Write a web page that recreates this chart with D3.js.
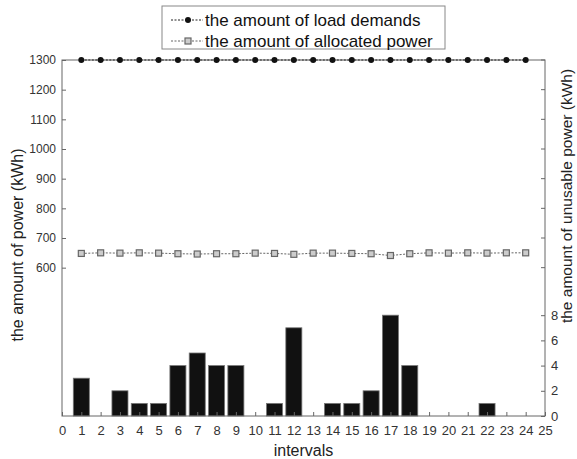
<!DOCTYPE html>
<html>
<head>
<meta charset="utf-8">
<script src="https://cdn.jsdelivr.net/npm/d3@7"></script>
<style>
  body { margin: 0; background: #fff; }
  svg { font-family: "Liberation Sans", Arial, sans-serif; }
</style>
</head>
<body>
<svg id="chart" width="577" height="459"></svg>
<script>
// intervals 1..24
const intervals = d3.range(1, 25);
const loadDemands = [1300, 1300, 1300, 1300, 1300, 1300, 1300, 1300, 1300, 1300, 1300, 1300,
                     1300, 1300, 1300, 1300, 1300, 1300, 1300, 1300, 1300, 1300, 1300, 1300];
const allocatedPower = [648, 650, 649, 650, 649, 647, 646, 647, 647, 649, 648, 645,
                        649, 649, 648, 647, 641, 647, 650, 649, 650, 649, 650, 650];
const unusablePower = [3, 0, 2, 1, 1, 4, 5, 4, 4, 0, 1, 7, 0, 1, 1, 2, 8, 4, 0, 0, 0, 1, 0, 0];
const xTicks = d3.range(0, 26);
const leftTicks = [600, 700, 800, 900, 1000, 1100, 1200, 1300];
const rightTicks = [0, 2, 4, 6, 8];

const svg = d3.select("#chart");
const plotLeft = 62, plotRight = 545, plotTop = 60, plotBottom = 416;
const axisColor = "#666";

const x = d3.scaleLinear().domain([0, 25]).range([plotLeft, plotRight]);
const yL = d3.scaleLinear().domain([100, 1300]).range([plotBottom, plotTop]);
const yR = d3.scaleLinear().domain([0, 28.25]).range([plotBottom, plotTop]);

// bars (unusable power, right axis)
const bw = (x(1) - x(0)) * 0.83;
svg.append("g").selectAll("rect")
    .data(unusablePower)
    .enter()
    .append("rect")
    .attr("x", (d, i) => x(intervals[i]) - bw / 2)
    .attr("y", d => yR(d))
    .attr("width", bw)
    .attr("height", d => plotBottom - yR(d))
    .attr("fill", "#111")
    .attr("stroke", "#777")
    .attr("stroke-width", 0.8);

// frame
svg.append("rect")
    .attr("x", plotLeft).attr("y", plotTop)
    .attr("width", plotRight - plotLeft).attr("height", plotBottom - plotTop)
    .attr("fill", "none").attr("stroke", axisColor).attr("stroke-width", 1);

// x axis: ticks point inward
const xAxis = svg.append("g")
    .attr("transform", `translate(0,${plotBottom})`)
    .call(d3.axisBottom(x).tickValues(xTicks).tickFormat(d3.format("d"))
        .tickSizeInner(-4).tickSizeOuter(0).tickPadding(10));
xAxis.select(".domain").remove();
xAxis.selectAll("line").attr("stroke", axisColor);
xAxis.selectAll("text").attr("font-size", 13).attr("fill", "#333");

// left axis
const yAxisL = svg.append("g")
    .attr("transform", `translate(${plotLeft},0)`)
    .call(d3.axisLeft(yL).tickValues(leftTicks).tickFormat(d3.format("d"))
        .tickSizeInner(-4).tickSizeOuter(0).tickPadding(6));
yAxisL.select(".domain").remove();
yAxisL.selectAll("line").attr("stroke", axisColor);
yAxisL.selectAll("text").attr("font-size", 12).attr("fill", "#333");

// mirrored left ticks on the right side
svg.append("g").selectAll("line")
    .data(leftTicks)
    .enter()
    .append("line")
    .attr("x1", plotRight).attr("x2", plotRight - 4)
    .attr("y1", d => yL(d)).attr("y2", d => yL(d))
    .attr("stroke", axisColor);

// right axis
const yAxisR = svg.append("g")
    .attr("transform", `translate(${plotRight},0)`)
    .call(d3.axisRight(yR).tickValues(rightTicks).tickFormat(d3.format("d"))
        .tickSizeInner(-4).tickSizeOuter(0).tickPadding(6));
yAxisR.select(".domain").remove();
yAxisR.selectAll("line").attr("stroke", axisColor);
yAxisR.selectAll("text").attr("font-size", 13).attr("fill", "#333");

// load demands line
const lineL = d3.line().x((d, i) => x(intervals[i])).y(d => yL(d));
svg.append("path")
    .datum(loadDemands)
    .attr("d", lineL)
    .attr("fill", "none").attr("stroke", "#222").attr("stroke-width", 1)
    .attr("stroke-dasharray", "2,1.5");
svg.append("g").selectAll("circle")
    .data(loadDemands)
    .enter()
    .append("circle")
    .attr("cx", (d, i) => x(intervals[i]))
    .attr("cy", d => yL(d))
    .attr("r", 3)
    .attr("fill", "#111");

// allocated power line
svg.append("path")
    .datum(allocatedPower)
    .attr("d", lineL)
    .attr("fill", "none").attr("stroke", "#666").attr("stroke-width", 1)
    .attr("stroke-dasharray", "2,1.5");
svg.append("g").selectAll("rect")
    .data(allocatedPower)
    .enter()
    .append("rect")
    .attr("x", (d, i) => x(intervals[i]) - 3)
    .attr("y", d => yL(d) - 3)
    .attr("width", 6).attr("height", 6)
    .attr("fill", "#ccc").attr("stroke", "#666").attr("stroke-width", 1.2);

// axis titles
svg.append("text")
    .attr("transform", "translate(23,245) rotate(-90)")
    .attr("text-anchor", "middle")
    .attr("font-size", 16).attr("fill", "#222")
    .text("the amount of power (kWh)");
svg.append("text")
    .attr("transform", "translate(572,196) rotate(-90)")
    .attr("text-anchor", "middle")
    .attr("font-size", 15.5).attr("fill", "#222")
    .text("the amount of unusable power (kWh)");
svg.append("text")
    .attr("x", (plotLeft + plotRight) / 2).attr("y", 456)
    .attr("text-anchor", "middle")
    .attr("font-size", 16).attr("fill", "#222")
    .text("intervals");

// legend
const legend = svg.append("g");
legend.append("rect")
    .attr("x", 162).attr("y", 6).attr("width", 283).attr("height", 43)
    .attr("fill", "#fff").attr("stroke", "#888").attr("stroke-width", 1);
const legendItems = [
    {label: "the amount of load demands", color: "#222", marker: "circle"},
    {label: "the amount of allocated power", color: "#666", marker: "square"}
];
legendItems.forEach((item, i) => {
    const yy = 20 + i * 21;
    legend.append("line")
        .attr("x1", 171).attr("x2", 203).attr("y1", yy).attr("y2", yy)
        .attr("stroke", item.color).attr("stroke-dasharray", "2,1.5");
    if (item.marker === "circle") {
        legend.append("circle").attr("cx", 188).attr("cy", yy).attr("r", 3).attr("fill", "#111");
    } else {
        legend.append("rect").attr("x", 185).attr("y", yy - 3).attr("width", 6).attr("height", 6)
            .attr("fill", "#ccc").attr("stroke", "#666").attr("stroke-width", 1.2);
    }
    legend.append("text")
        .attr("x", 205).attr("y", yy + 6)
        .attr("font-size", 17).attr("fill", "#111")
        .text(item.label);
});
</script>
</body>
</html>
